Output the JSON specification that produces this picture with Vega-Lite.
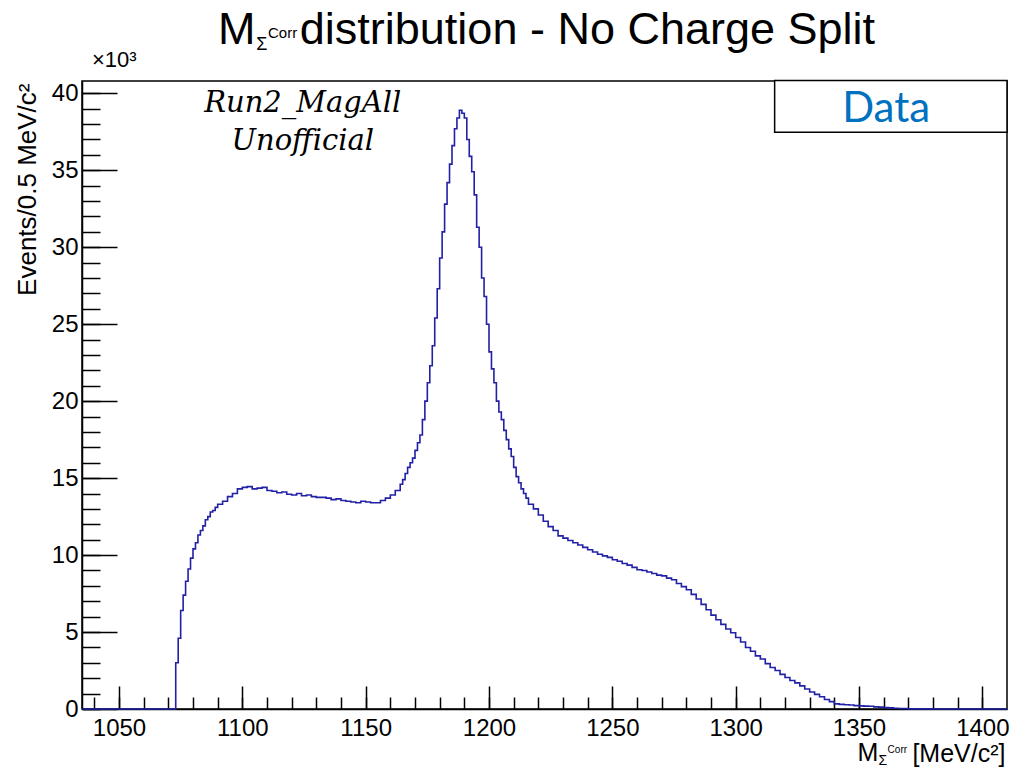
{
"$schema":"https://vega.github.io/schema/vega-lite/v6.json",
"width":925,"height":628,
"autosize":{"type":"none"},
"padding":{"left":82,"top":81,"right":8,"bottom":58},
"background":"white",
"config":{"view":{"stroke":"#000","strokeWidth":1.5},"font":"Liberation Sans",
 "axis":{"grid":false,"domainColor":"#000","tickColor":"#000","labelColor":"#000","titleColor":"#000","labelFont":"Liberation Sans","titleFont":"Liberation Sans","titleFontWeight":"normal","labelFontSize":24,"titleFontSize":24}},
"datasets":{"hist":[
{"mass":1035,"kEvents":0},{"mass":1073,"kEvents":3.0},{"mass":1074,"kEvents":4.6},{"mass":1075,"kEvents":6.4},{"mass":1076,"kEvents":7.4},{"mass":1077,"kEvents":8.3},{"mass":1078,"kEvents":9.1},{"mass":1079,"kEvents":9.8},{"mass":1080,"kEvents":10.4},{"mass":1081,"kEvents":10.8},{"mass":1082,"kEvents":11.3},{"mass":1083,"kEvents":11.6},{"mass":1084,"kEvents":11.9},{"mass":1085,"kEvents":12.3},{"mass":1086,"kEvents":12.5},{"mass":1087,"kEvents":12.8},{"mass":1088,"kEvents":12.9},{"mass":1089,"kEvents":13.1},{"mass":1090,"kEvents":13.3},
{"mass":1092,"kEvents":13.5},{"mass":1094,"kEvents":13.8},{"mass":1096,"kEvents":14.0},{"mass":1098,"kEvents":14.3},{"mass":1100,"kEvents":14.4},{"mass":1102,"kEvents":14.45},{"mass":1104,"kEvents":14.3},{"mass":1106,"kEvents":14.35},{"mass":1108,"kEvents":14.4},{"mass":1110,"kEvents":14.2},{"mass":1112,"kEvents":14.15},{"mass":1114,"kEvents":14.05},{"mass":1116,"kEvents":14.1},{"mass":1118,"kEvents":13.95},{"mass":1120,"kEvents":13.9},{"mass":1122,"kEvents":14.0},{"mass":1124,"kEvents":13.85},{"mass":1126,"kEvents":13.9},{"mass":1128,"kEvents":13.8},{"mass":1130,"kEvents":13.75},{"mass":1132,"kEvents":13.75},{"mass":1134,"kEvents":13.7},{"mass":1136,"kEvents":13.6},{"mass":1138,"kEvents":13.65},{"mass":1140,"kEvents":13.55},{"mass":1142,"kEvents":13.5},{"mass":1144,"kEvents":13.45},{"mass":1146,"kEvents":13.4},{"mass":1148,"kEvents":13.5},{"mass":1150,"kEvents":13.45},{"mass":1152,"kEvents":13.4},{"mass":1154,"kEvents":13.4},{"mass":1156,"kEvents":13.55},{"mass":1158,"kEvents":13.7},{"mass":1160,"kEvents":13.9},{"mass":1162,"kEvents":14.2},
{"mass":1164,"kEvents":14.6},{"mass":1165,"kEvents":14.9},{"mass":1166,"kEvents":15.3},{"mass":1167,"kEvents":15.7},{"mass":1168,"kEvents":16.0},{"mass":1169,"kEvents":16.3},{"mass":1170,"kEvents":16.8},{"mass":1171,"kEvents":17.3},{"mass":1172,"kEvents":17.8},{"mass":1173,"kEvents":18.8},{"mass":1174,"kEvents":20.0},{"mass":1175,"kEvents":21.2},{"mass":1176,"kEvents":22.3},{"mass":1177,"kEvents":23.6},{"mass":1178,"kEvents":25.4},{"mass":1179,"kEvents":27.3},{"mass":1180,"kEvents":29.3},{"mass":1181,"kEvents":31.0},{"mass":1182,"kEvents":32.8},{"mass":1183,"kEvents":34.2},{"mass":1184,"kEvents":35.4},{"mass":1185,"kEvents":36.6},{"mass":1186,"kEvents":37.7},{"mass":1187,"kEvents":38.4},{"mass":1188,"kEvents":38.9},{"mass":1189,"kEvents":38.7},{"mass":1190,"kEvents":38.4},{"mass":1191,"kEvents":37.0},{"mass":1192,"kEvents":35.9},{"mass":1193,"kEvents":34.9},{"mass":1194,"kEvents":33.4},{"mass":1195,"kEvents":31.3},{"mass":1196,"kEvents":30.0},{"mass":1197,"kEvents":28.0},{"mass":1198,"kEvents":26.8},{"mass":1199,"kEvents":25.0},{"mass":1200,"kEvents":23.2},{"mass":1201,"kEvents":22.1},{"mass":1202,"kEvents":21.2},{"mass":1203,"kEvents":20.0},{"mass":1204,"kEvents":19.3},{"mass":1205,"kEvents":18.8},{"mass":1206,"kEvents":18.1},{"mass":1207,"kEvents":17.5},{"mass":1208,"kEvents":16.9},{"mass":1209,"kEvents":16.4},{"mass":1210,"kEvents":15.7},{"mass":1211,"kEvents":15.1},{"mass":1212,"kEvents":14.7},{"mass":1213,"kEvents":14.3},{"mass":1214,"kEvents":14.0},{"mass":1215,"kEvents":13.7},{"mass":1216,"kEvents":13.3},
{"mass":1218,"kEvents":13.0},{"mass":1220,"kEvents":12.6},{"mass":1222,"kEvents":12.2},{"mass":1224,"kEvents":11.85},{"mass":1226,"kEvents":11.6},{"mass":1228,"kEvents":11.25},{"mass":1230,"kEvents":11.1},{"mass":1232,"kEvents":10.95},{"mass":1234,"kEvents":10.8},{"mass":1236,"kEvents":10.65},{"mass":1238,"kEvents":10.5},{"mass":1240,"kEvents":10.35},{"mass":1242,"kEvents":10.2},{"mass":1244,"kEvents":10.05},{"mass":1246,"kEvents":9.95},{"mass":1248,"kEvents":9.85},{"mass":1250,"kEvents":9.7},{"mass":1252,"kEvents":9.6},{"mass":1254,"kEvents":9.45},{"mass":1256,"kEvents":9.35},{"mass":1258,"kEvents":9.2},{"mass":1260,"kEvents":9.05},{"mass":1262,"kEvents":9.0},{"mass":1264,"kEvents":8.9},{"mass":1266,"kEvents":8.8},{"mass":1268,"kEvents":8.7},{"mass":1270,"kEvents":8.65},{"mass":1272,"kEvents":8.5},{"mass":1274,"kEvents":8.4},{"mass":1276,"kEvents":8.15},{"mass":1278,"kEvents":7.95},{"mass":1280,"kEvents":7.75},{"mass":1282,"kEvents":7.45},{"mass":1284,"kEvents":7.15},{"mass":1286,"kEvents":6.8},{"mass":1288,"kEvents":6.45},{"mass":1290,"kEvents":6.1},{"mass":1292,"kEvents":5.8},{"mass":1294,"kEvents":5.5},{"mass":1296,"kEvents":5.2},{"mass":1298,"kEvents":4.95},{"mass":1300,"kEvents":4.65},{"mass":1302,"kEvents":4.35},{"mass":1304,"kEvents":4.0},{"mass":1306,"kEvents":3.75},{"mass":1308,"kEvents":3.45},{"mass":1310,"kEvents":3.25},{"mass":1312,"kEvents":2.95},{"mass":1314,"kEvents":2.7},{"mass":1316,"kEvents":2.5},{"mass":1318,"kEvents":2.25},{"mass":1320,"kEvents":2.05},{"mass":1322,"kEvents":1.85},{"mass":1324,"kEvents":1.7},{"mass":1326,"kEvents":1.5},{"mass":1328,"kEvents":1.3},{"mass":1330,"kEvents":1.1},{"mass":1332,"kEvents":0.95},{"mass":1334,"kEvents":0.8},{"mass":1336,"kEvents":0.62},{"mass":1338,"kEvents":0.48},{"mass":1340,"kEvents":0.33},{"mass":1342,"kEvents":0.3},{"mass":1344,"kEvents":0.28},{"mass":1346,"kEvents":0.26},{"mass":1348,"kEvents":0.22},{"mass":1350,"kEvents":0.2},{"mass":1352,"kEvents":0.19},{"mass":1354,"kEvents":0.18},{"mass":1356,"kEvents":0.14},{"mass":1358,"kEvents":0.12},{"mass":1360,"kEvents":0.09},{"mass":1362,"kEvents":0.07},{"mass":1364,"kEvents":0.05},{"mass":1366,"kEvents":0.03},{"mass":1370,"kEvents":0.01},{"mass":1380,"kEvents":0},{"mass":1410,"kEvents":0}
]},
"data":{"name":"hist"},
"layer":[
 {"mark":{"type":"line","opacity":0},
  "encoding":{
   "x":{"field":"mass","type":"quantitative","scale":{"domain":[1035,1410],"nice":false,"zero":false},
        "axis":{"orient":"bottom","values":[1040,1050,1060,1070,1080,1090,1100,1110,1120,1130,1140,1150,1160,1170,1180,1190,1200,1210,1220,1230,1240,1250,1260,1270,1280,1290,1300,1310,1320,1330,1340,1350,1360,1370,1380,1390,1400],"tickSize":-12,"tickWidth":1.5,"labels":false,"domain":false,"title":null}},
   "y":{"field":"kEvents","type":"quantitative","scale":{"domain":[0,40.8],"nice":false,"zero":true},
        "axis":{"orient":"left","values":[0,1,2,3,4,5,6,7,8,9,10,11,12,13,14,15,16,17,18,19,20,21,22,23,24,25,26,27,28,29,30,31,32,33,34,35,36,37,38,39,40],"tickSize":-18,"tickWidth":1.5,"labels":false,"domain":false,"title":null}}}},
 {"mark":{"type":"line","interpolate":"step-after","color":"#2121a6","strokeWidth":1.6},
  "encoding":{
   "x":{"field":"mass","type":"quantitative",
        "axis":{"orient":"bottom","values":[1050,1100,1150,1200,1250,1300,1350,1400],"format":"d","tickSize":-23,"tickWidth":1.5,"domainWidth":1.5,"labelPadding":30,
                "title":"[MeV/c²]","titleFontSize":25,"titleX":923,"titleY":52,"titleAlign":"right","titleBaseline":"alphabetic","titleAnchor":"end"}},
   "y":{"field":"kEvents","type":"quantitative",
        "axis":{"orient":"left","values":[0,5,10,15,20,25,30,35,40],"format":"d","tickSize":-35,"tickWidth":1.5,"domainWidth":1.5,"labelPadding":39,
                "title":"Events/0.5 MeV/c²","titleFontSize":26,"titleX":-55,"titleY":2,"titleAngle":-90,"titleAlign":"right","titleBaseline":"middle","titleAnchor":"end"}}}},
 {"data":{"values":[{"label":"legend"}]},
  "mark":{"type":"rect","fill":"white","stroke":"black","strokeWidth":1.5},
  "encoding":{"x":{"datum":1315.8,"axis":null},"x2":{"datum":1410},"y":{"datum":40.84,"axis":null},"y2":{"datum":37.47}}},
 {"data":{"values":[{"label":"Data"}]},
  "mark":{"type":"text","font":"Lato","fontSize":42,"color":"#0070C0","align":"center","baseline":"alphabetic"},
  "encoding":{"x":{"datum":1361,"axis":null},"y":{"datum":38.14,"axis":null},"text":{"field":"label"}}},
 {"data":{"values":[{"label":"Run2_MagAll"}]},
  "mark":{"type":"text","font":"DejaVu Serif","fontStyle":"italic","fontSize":29,"color":"black","align":"center","baseline":"alphabetic"},
  "encoding":{"x":{"datum":1124.5,"axis":null},"y":{"datum":38.77,"axis":null},"text":{"field":"label"}}},
 {"data":{"values":[{"label":"Unofficial"}]},
  "mark":{"type":"text","font":"DejaVu Serif","fontStyle":"italic","fontSize":29,"color":"black","align":"center","baseline":"alphabetic"},
  "encoding":{"x":{"datum":1124.5,"axis":null},"y":{"datum":36.3,"axis":null},"text":{"field":"label"}}},
 {"data":{"values":[{"label":"×10³"}]},
  "mark":{"type":"text","fontSize":22,"color":"black","align":"left","baseline":"alphabetic"},
  "encoding":{"x":{"datum":1039.05,"axis":null},"y":{"datum":41.69,"axis":null},"text":{"field":"label"}}},
 {"data":{"values":[{"label":"M"}]},
  "mark":{"type":"text","fontSize":45,"color":"black","align":"left","baseline":"alphabetic"},
  "encoding":{"x":{"datum":1090.1,"axis":null},"y":{"datum":43.18,"axis":null},"text":{"field":"label"}}},
 {"data":{"values":[{"label":"Σ"}]},
  "mark":{"type":"text","fontSize":18,"color":"black","align":"left","baseline":"alphabetic"},
  "encoding":{"x":{"datum":1105.6,"axis":null},"y":{"datum":42.79,"axis":null},"text":{"field":"label"}}},
 {"data":{"values":[{"label":"Corr"}]},
  "mark":{"type":"text","fontSize":15,"color":"black","align":"left","baseline":"alphabetic"},
  "encoding":{"x":{"datum":1110.4,"axis":null},"y":{"datum":43.57,"axis":null},"text":{"field":"label"}}},
 {"data":{"values":[{"label":"distribution - No Charge Split"}]},
  "mark":{"type":"text","fontSize":45,"color":"black","align":"left","baseline":"alphabetic"},
  "encoding":{"x":{"datum":1123.3,"axis":null},"y":{"datum":43.18,"axis":null},"text":{"field":"label"}}},
 {"data":{"values":[{"label":"M"}]},
  "mark":{"type":"text","fontSize":25,"color":"black","align":"left","baseline":"alphabetic"},
  "encoding":{"x":{"datum":1349.4,"axis":null},"y":{"datum":-3.38,"axis":null},"text":{"field":"label"}}},
 {"data":{"values":[{"label":"Σ"}]},
  "mark":{"type":"text","fontSize":14,"color":"black","align":"left","baseline":"alphabetic"},
  "encoding":{"x":{"datum":1357.9,"axis":null},"y":{"datum":-3.64,"axis":null},"text":{"field":"label"}}},
 {"data":{"values":[{"label":"Corr"}]},
  "mark":{"type":"text","fontSize":10,"color":"black","align":"left","baseline":"alphabetic"},
  "encoding":{"x":{"datum":1361.6,"axis":null},"y":{"datum":-2.86,"axis":null},"text":{"field":"label"}}}
],
"resolve":{"axis":{"x":"independent","y":"independent"}}
}
